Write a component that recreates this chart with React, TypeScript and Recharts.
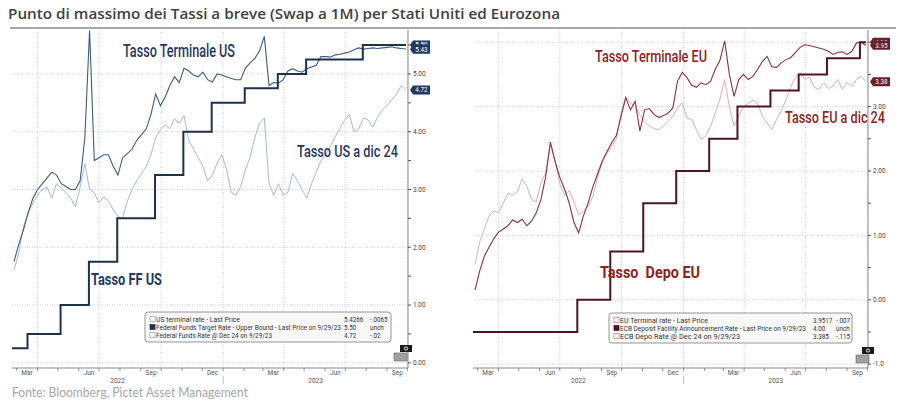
import React from 'react';
import { LineChart, Line, XAxis, YAxis, ReferenceLine } from 'recharts';

const DAY = 86400000;
const d = (s: string) => Date.parse(s + 'T00:00:00Z');

// time frame shared by both panels
const domainStart = d('2022-02-22');
const domainEnd = d('2023-10-02');
const firstWeek = d('2022-02-25');
const yearBreak = d('2023-01-01');

const monthTicks = [
  '2022-03-01', '2022-04-01', '2022-05-01', '2022-06-01', '2022-07-01', '2022-08-01', '2022-09-01',
  '2022-10-01', '2022-11-01', '2022-12-01', '2023-01-01', '2023-02-01', '2023-03-01', '2023-04-01',
  '2023-05-01', '2023-06-01', '2023-07-01', '2023-08-01', '2023-09-01', '2023-10-01',
].map(d);
const quarterLines = ['2022-04-01', '2022-07-01', '2022-10-01', '2023-01-01', '2023-04-01', '2023-07-01', '2023-10-01'].map(d);
const monthLabels: Record<number, string> = { 2: 'Mar', 5: 'Jun', 8: 'Sep', 11: 'Dec' };
const yearLabels = ['2022', '2023'];

// weekly closes (Fridays from 25 Feb 2022 to 29 Sep 2023)
const usTerminal = [
  1.75, 2.05, 2.3, 2.6, 2.85, 3.0, 3.1, 3.2, 3.3, 3.25,
  3.1, 3.05, 3.0, 3.0, 3.15, 3.9, 5.75, 3.5, 3.55, 3.6,
  3.6, 3.4, 3.25, 3.55, 3.62, 3.7, 3.85, 3.95, 4.05, 4.3,
  4.65, 4.45, 4.6, 4.8, 4.95, 4.85, 5.1, 5.05, 4.98, 4.95,
  5.03, 4.9, 4.86, 5.0, 4.98, 4.95, 4.92, 4.9, 4.9, 5.1,
  5.19, 5.27, 5.4, 5.65, 4.8, 4.85, 4.84, 4.9, 5.05, 5.09,
  5.05, 5.03, 5.09, 5.12, 5.15, 5.3, 5.3, 5.29, 5.33, 5.34,
  5.36, 5.38, 5.42, 5.45, 5.43, 5.44, 5.45, 5.44, 5.45, 5.46,
  5.47, 5.45, 5.44, 5.43,
];
const usDec24 = [
  1.6, 1.9, 2.35, 2.6, 2.77, 2.9, 3.0, 3.04, 2.85, 3.1,
  3.02, 2.95, 2.85, 2.7, 3.04, 3.45, 3.0, 2.94, 2.77, 2.87,
  2.8, 2.65, 2.53, 2.5, 2.8, 3.0, 3.15, 3.28, 3.4, 3.6,
  3.9, 4.03, 4.12, 4.05, 4.22, 4.15, 4.28, 3.85, 3.7, 3.55,
  3.4, 3.15, 3.25, 3.45, 3.6, 3.35, 2.95, 2.9, 3.05, 3.34,
  3.56, 3.9, 4.15, 4.24, 3.1, 2.9, 3.1, 2.9, 2.95, 3.28,
  3.15, 3.0, 2.85, 3.1, 3.3, 3.5, 3.6, 3.75, 3.91, 4.05,
  4.2, 4.3, 4.0, 4.05, 4.24, 4.2, 4.08, 4.25, 4.38, 4.45,
  4.55, 4.65, 4.8, 4.72,
];
const euTerminal = [
  0.15, 0.45, 0.68, 0.82, 0.95, 1.05, 1.1, 1.15, 1.24, 1.2,
  1.25, 1.15, 1.22, 1.35, 1.56, 1.91, 2.45, 2.15, 1.9, 1.72,
  1.5, 1.2, 1.04, 1.3, 1.5, 1.75, 1.95, 2.15, 2.3, 2.44,
  2.55, 2.85, 3.14, 2.95, 3.08, 2.62, 2.95, 2.97, 2.88, 2.83,
  2.86, 2.9, 2.98, 3.4, 3.53, 3.45, 3.33, 3.3, 3.37, 3.34,
  3.39, 3.58, 3.72, 4.02, 3.5, 3.16, 3.42, 3.5, 3.42, 3.47,
  3.58, 3.7, 3.78, 3.62, 3.61, 3.68, 3.73, 3.76, 3.84, 3.92,
  3.96, 3.95, 3.93, 3.91, 3.89, 3.86, 3.81, 3.84, 3.85, 3.81,
  3.86, 3.99, 4.0, 3.95,
];
const euDec24 = [
  0.55, 0.9, 1.1, 1.3, 1.38, 1.35, 1.5, 1.66, 1.62, 1.68,
  1.88, 1.76, 1.56, 1.52, 1.82, 1.97, 2.42, 2.15, 1.8, 1.62,
  1.7, 1.52, 1.32, 1.38, 1.45, 1.6, 1.9, 2.13, 2.28, 2.38,
  2.49, 2.9, 3.15, 3.06, 3.0, 2.87, 2.77, 2.7, 2.66, 2.64,
  2.7, 2.77, 2.85, 2.98, 3.06, 2.82, 2.8, 2.64, 2.49, 2.55,
  2.69, 2.9, 3.12, 3.42, 3.0, 2.7, 2.85, 3.0, 3.05, 3.1,
  3.05, 2.85, 2.75, 2.64, 2.8, 2.93, 3.1, 3.3, 3.45, 3.53,
  3.42, 3.46, 3.3, 3.27, 3.37, 3.28, 3.32, 3.42, 3.27, 3.37,
  3.32, 3.42, 3.47, 3.385,
];

// policy rates: change dates and new levels
const ffDates = ['2022-02-22', '2022-03-17', '2022-05-05', '2022-06-16', '2022-07-28', '2022-09-22', '2022-11-03', '2022-12-15', '2023-02-02', '2023-03-23', '2023-05-04', '2023-07-27', '2023-09-29'];
const ffValues = [0.25, 0.5, 1.0, 1.75, 2.5, 3.25, 4.0, 4.5, 4.75, 5.0, 5.25, 5.5, 5.5];
const ecbDates = ['2022-02-22', '2022-07-27', '2022-09-14', '2022-11-02', '2022-12-21', '2023-02-08', '2023-03-22', '2023-05-10', '2023-06-21', '2023-08-02', '2023-09-20', '2023-09-29'];
const ecbValues = [-0.5, 0.0, 0.75, 1.5, 2.0, 2.5, 3.0, 3.25, 3.5, 3.75, 4.0, 4.0];

const usTicks = [0, 0.5, 1, 1.5, 2, 2.5, 3, 3.5, 4, 4.5, 5, 5.5];
const euTicks = [-1, -0.5, 0, 0.5, 1, 1.5, 2, 2.5, 3, 3.5, 4];
const usTags = [5.5, 5.4266, 4.72];
const euTags = [4.0, 3.9517, 3.385];

const usLegend = [
  { name: 'US terminal rate - Last Price', last: '5.4266', chg: '-.0065', len: 84 },
  { name: 'Federal Funds Target Rate - Upper Bound - Last Price on 9/29/23', last: '5.50', chg: 'unch', len: 185 },
  { name: 'Federal Funds Rate @ Dec 24 on 9/29/23', last: '4.72', chg: '-.02', len: 116 },
];
const euLegend = [
  { name: 'EU Terminal rate - Last Price', last: '3.9517', chg: '-.007', len: 88 },
  { name: 'ECB Deposit Facility Announcement Rate - Last Price on 9/29/23', last: '4.00', chg: 'unch', len: 186 },
  { name: 'ECB Depo Rate @ Dec 24 on 9/29/23', last: '3.385', chg: '-.115', len: 120 },
];

const weekly = (a: number[], b: number[]) =>
  a.map((v, i) => ({ t: firstWeek + i * 7 * DAY, term: v, dec: b[i] }));
const steps = (dates: string[], values: number[]) => dates.map((s, i) => ({ t: d(s), v: values[i] }));

const usData = weekly(usTerminal, usDec24);
const euData = weekly(euTerminal, euDec24);
const ffData = steps(ffDates, ffValues);
const ecbData = steps(ecbDates, ecbValues);

const FONT = 'Roboto, "Open Sans", sans-serif';
const GRID = '#c9c9c9';

// month tick marks, quarter-month labels, and the year row below them
function MonthTick({ x, y, payload, perMs }: any) {
  const t = payload.value;
  const name = monthLabels[new Date(t).getUTCMonth()];
  const half = 15.2 * DAY * perMs;
  const txt = { fontSize: 6.5, fill: '#555', fontFamily: FONT, textAnchor: 'middle' as const };
  return (
    <g>
      <line x1={x} y1={y} x2={x} y2={y + 3} stroke="#777" strokeWidth={0.8} />
      {name && <text x={x + half} y={y + 6.5} {...txt}>{name}</text>}
      {t === monthTicks[0] && (
        <text x={x + ((domainStart + yearBreak) / 2 - t) * perMs} y={y + 15} {...txt}>{yearLabels[0]}</text>
      )}
      {t === yearBreak && (
        <>
          <line x1={x} y1={y + 8} x2={x} y2={y + 16} stroke="#aaa" strokeWidth={0.8} />
          <text x={x + ((yearBreak + domainEnd) / 2 - t) * perMs} y={y + 15} {...txt}>{yearLabels[1]}</text>
        </>
      )}
    </g>
  );
}

function Tag({ viewBox, value, fill }: any) {
  if (!viewBox) return null;
  const x = viewBox.x + viewBox.width + 2;
  const y = viewBox.y;
  return (
    <g>
      <polygon points={`${x},${y} ${x + 3},${y - 4.5} ${x + 20},${y - 4.5} ${x + 20},${y + 4.5} ${x + 3},${y + 4.5}`} fill={fill} />
      <text x={x + 11.5} y={y + 2.3} fontSize={6.3} fill="#fff" textAnchor="middle" fontFamily={FONT}>
        {value.toFixed(2)}
      </text>
    </g>
  );
}

interface PanelProps {
  data: { t: number; term: number; dec: number }[];
  stepData: { t: number; v: number }[];
  ticks: number[];
  domain: [number, number];
  tags: number[];
  width: number;
  left: number;
  right: number;
  axisW: number;
  colors: { term: string; dec: string; step: string; tag: string };
  fmt: (v: number) => string;
}

function Panel({ data, stepData, ticks, domain, tags, width, left, right, axisW, colors, fmt }: PanelProps) {
  const plotW = width - left - right - axisW;
  const perMs = plotW / (domainEnd - domainStart);
  const majors = ticks.filter((v) => Number.isInteger(v));
  return (
    <LineChart width={width} height={395} margin={{ top: 30, left, right, bottom: 5 }}>
      <XAxis
        xAxisId="m"
        dataKey="t"
        type="number"
        domain={[domainStart, domainEnd]}
        ticks={monthTicks}
        allowDataOverflow
        height={22}
        tickSize={0}
        tickMargin={0}
        tickLine={false}
        axisLine={{ stroke: '#8a8a8a' }}
        interval={0}
        tick={<MonthTick perMs={perMs} />}
      />
      <YAxis
        yAxisId="r"
        orientation="right"
        type="number"
        domain={domain}
        allowDataOverflow
        ticks={ticks}
        interval={0}
        width={axisW}
        tickSize={3}
        tickMargin={2}
        tickFormatter={(v: number) => (Number.isInteger(v) ? fmt(v) : '')}
        tick={{ fontSize: 6.5, fill: '#444', fontFamily: FONT }}
        axisLine={{ stroke: '#8a8a8a' }}
        tickLine={{ stroke: '#555' }}
      />
      {majors.map((v) => (
        <ReferenceLine key={'h' + v} xAxisId="m" yAxisId="r" y={v} stroke={GRID} strokeDasharray="1 1.5" />
      ))}
      {quarterLines.map((t) => (
        <ReferenceLine key={'v' + t} xAxisId="m" yAxisId="r" x={t} stroke={GRID} strokeDasharray="1 1.5" />
      ))}
      <Line xAxisId="m" yAxisId="r" data={data} dataKey="dec" type="linear" stroke={colors.dec} strokeWidth={1} dot={false} isAnimationActive={false} />
      <Line xAxisId="m" yAxisId="r" data={data} dataKey="term" type="linear" stroke={colors.term} strokeWidth={1.1} dot={false} isAnimationActive={false} />
      <Line xAxisId="m" yAxisId="r" data={stepData} dataKey="v" type="stepAfter" stroke={colors.step} strokeWidth={2} dot={false} isAnimationActive={false} />
      {tags.map((v) => (
        <ReferenceLine key={'tag' + v} xAxisId="m" yAxisId="r" y={v} stroke="none" label={<Tag value={v} fill={colors.tag} />} />
      ))}
    </LineChart>
  );
}

function Legend({ x, y, w, rows, swatch, fill, valX, chgX }: any) {
  return (
    <g fontFamily={FONT} fontSize={6.3} fill="#333">
      <rect x={x} y={y} width={w} height={30} rx={3} fill="#f8f8f8" stroke="#8a8a8a" strokeWidth={0.9} />
      {rows.map((r: any, i: number) => {
        const by = y + 9.5 + i * 8;
        return (
          <g key={r.name}>
            <rect x={x + 5} y={by - 5} width={5} height={5} fill={i === 1 ? fill : '#fff'} stroke={i === 1 ? fill : swatch} strokeWidth={0.7} />
            <text x={x + 11} y={by} textLength={r.len} lengthAdjust="spacingAndGlyphs">{r.name}</text>
            <text x={valX} y={by}>{r.last}</text>
            <text x={chgX} y={by}>{r.chg}</text>
          </g>
        );
      })}
    </g>
  );
}

function Widget({ x, y }: { x: number; y: number }) {
  return (
    <g>
      <rect x={x + 6} y={y} width={12} height={7} fill="#1a1a1a" />
      <circle cx={x + 12} cy={y + 3.5} r={1.6} fill="none" stroke="#fff" strokeWidth={0.9} />
      <rect x={x} y={y + 8} width={13} height={8} fill="#a0a0a0" stroke="#666" strokeWidth={0.6} />
    </g>
  );
}

export default function App() {
  const US = '#1f3864';
  const EU = '#8e2323';
  return (
    <div style={{ position: 'absolute', left: 0, top: 0, width: 903, height: 407, background: '#fff', overflow: 'hidden' }}>
      <div style={{ position: 'absolute', left: 0, top: 0 }}>
        <Panel
          data={usData}
          stepData={ffData}
          ticks={usTicks}
          domain={[-0.09, 5.76]}
          tags={usTags}
          width={450}
          left={12}
          right={3}
          axisW={39}
          colors={{ term: '#3d5a82', dec: '#a7b9cd', step: '#1d314d', tag: '#1f3a5f' }}
          fmt={(v) => v.toFixed(2)}
        />
      </div>
      <div style={{ position: 'absolute', left: 450, top: 0 }}>
        <Panel
          data={euData}
          stepData={ecbData}
          ticks={euTicks}
          domain={[-1.06, 4.19]}
          tags={euTags}
          width={453}
          left={23}
          right={3}
          axisW={32}
          colors={{ term: '#8c3042', dec: '#d9aeb5', step: '#4d1520', tag: '#6b1f2a' }}
          fmt={(v) => (v === -1 ? '-1.0' : v.toFixed(2))}
        />
      </div>
      <svg width={903} height={407} style={{ position: 'absolute', left: 0, top: 0, pointerEvents: 'none' }}>
        <text x={8} y={18.5} fontFamily='"Open Sans", sans-serif' fontWeight={600} fontSize={14} fill="#404040" textLength={552} lengthAdjust="spacingAndGlyphs">
          Punto di massimo dei Tassi a breve (Swap a 1M) per Stati Uniti ed Eurozona
        </text>
        <line x1={10} y1={28} x2={896} y2={28} stroke="#a8a8a8" strokeWidth={2} />

        <g fontFamily={FONT} fontWeight={500}>
          <text x={123} y={57} fontSize={18} fill={US} textLength={112} lengthAdjust="spacingAndGlyphs">Tasso Terminale US</text>
          <text x={297} y={157} fontSize={17} fill={US} textLength={101} lengthAdjust="spacingAndGlyphs">Tasso US a dic 24</text>
          <text x={91} y={285} fontSize={17} fontWeight={700} fill={US} textLength={71} lengthAdjust="spacingAndGlyphs">Tasso FF US</text>
          <text x={595} y={62} fontSize={16} fill={EU} textLength={112} lengthAdjust="spacingAndGlyphs">Tasso Terminale EU</text>
          <text x={785} y={123} fontSize={16} fill={EU} textLength={100} lengthAdjust="spacingAndGlyphs">Tasso EU a dic 24</text>
          <text x={600} y={278} fontSize={17} fontWeight={700} fill={EU} textLength={100} lengthAdjust="spacingAndGlyphs">{'Tasso\u00a0 Depo EU'}</text>
        </g>

        <Legend x={145} y={312} w={246} rows={usLegend} swatch="#8aa0b8" fill="#1d314d" valX={344} chgX={370} />
        <Legend x={609} y={313} w={243} rows={euLegend} swatch="#c07a85" fill="#4d1520" valX={813} chgX={836} />

        <Widget x={394} y={345} />
        <Widget x={856} y={347} />

        <text x={12} y={397} fontFamily='Lato, "Open Sans", sans-serif' fontSize={13} fill="#a6a6a6" textLength={236} lengthAdjust="spacingAndGlyphs">
          Fonte: Bloomberg, Pictet Asset Management
        </text>
      </svg>
    </div>
  );
}
